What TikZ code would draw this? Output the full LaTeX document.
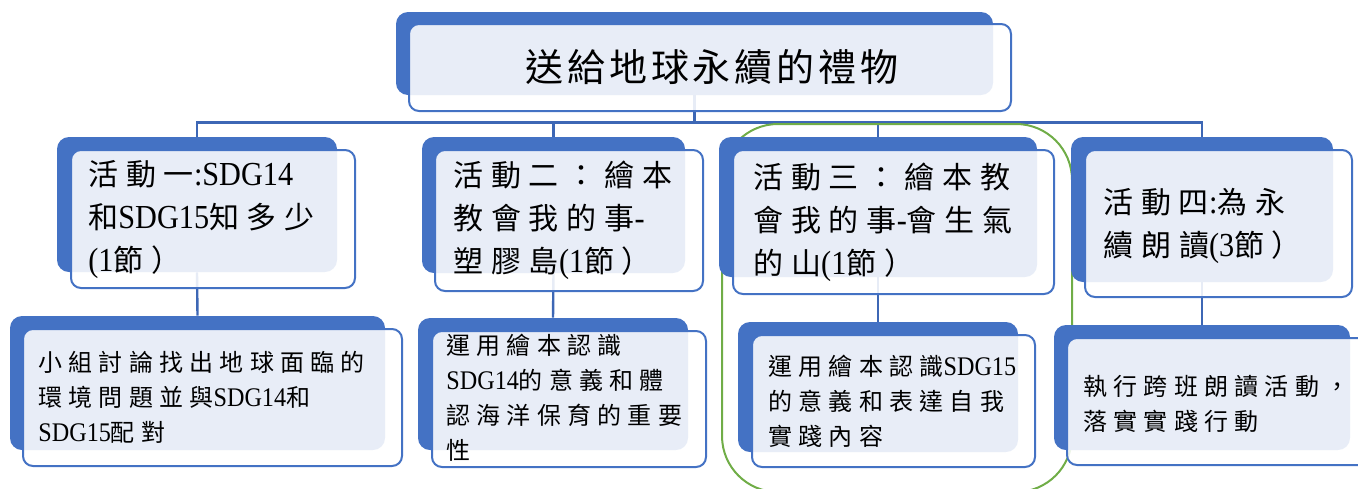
\documentclass[tikz,border=0pt]{standalone}
\usepackage{fontspec}
\setmainfont{Noto Sans CJK TC}[LetterSpace=26]
\newfontfamily\titlefont{Noto Sans CJK TC}[LetterSpace=10]
\newfontfamily\latinfont{Liberation Serif}[Scale=1.12, FakeStretch=0.9]
\newcommand\latn[1]{{\latinfont #1}}
\usetikzlibrary{fit}
\pgfdeclarelayer{background}
\pgfsetlayers{background,main}
\definecolor{accent}{HTML}{4472C4}
\definecolor{linkc}{HTML}{3D67B5}
\definecolor{grpc}{HTML}{70AD47}
\tikzset{
  back/.style={fill=accent, draw=none, rounded corners=6pt, inner sep=0pt},
  front/.style={fill=white, fill opacity=0.88, draw=accent, draw opacity=1, line width=1pt, rounded corners=5pt, inner sep=0pt},
  conn/.style={draw=linkc, line width=1.2pt},
  grp/.style={draw=grpc, line width=1pt, rounded corners=28pt, inner sep=0pt},
  lvlone/.style={anchor=west, align=left, inner sep=0pt, font=\fontsize{15}{21.5}\selectfont},
  lvltwo/.style={anchor=west, align=left, inner sep=0pt, font=\fontsize{12}{17.5}\selectfont},
}
\begin{document}
\begin{tikzpicture}[x=0.5pt, y=-0.5pt]
\useasboundingbox (0,0) rectangle (1358,488);
% group outline
\node[grp, fit={(722,124) (1072,492)}] (grp) {};
% top
\node[back, fit={(396,12) (993,95)}] (b0) {};
\node[front, fit={(409,24) (1011,111)}] (f0) {};
\node[inner sep=0pt, font=\fontsize{19}{22}\selectfont] (t0) at (712,67) {\titlefont 送給地球永續的禮物};
% level one
\node[back, fit={(57,137) (337,272)}] (b1) {};
\node[front, fit={(71,150) (355,288)}] (f1) {};
\node[lvlone] (t1) at (88,220) {活動一\latn{:SDG14}\\和\latn{SDG15}知多少\\\latn{(1}節）};
\node[back, fit={(422,137) (685,273)}] (b2) {};
\node[front, fit={(435,150) (703,291)}] (f2) {};
\node[lvlone] (t2) at (453,220) {活動二：繪本\\教會我的事\latn{-}\\塑膠島\latn{(1}節）};
\node[back, fit={(719,137) (1037,277)}] (b3) {};
\node[front, fit={(733,150) (1054,294)}] (f3) {};
\node[lvlone] (t3) at (753,222) {活動三：繪本教\\會我的事\latn{-}會生氣\\的山\latn{(1}節）};
\node[back, fit={(1071,137) (1333,282)}] (b4) {};
\node[front, fit={(1085,150) (1352,297)}] (f4) {};
\node[lvlone] (t4) at (1103,226) {活動四\latn{:}為永\\續朗讀\latn{(3}節）};
% level two
\node[back, fit={(10,316) (385,450)}] (d1) {};
\node[front, fit={(23,329) (402,466)}] (g1) {};
\node[lvltwo] (s1) at (38,397) {小組討論找出地球面臨的\\環境問題並與\latn{SDG14}和\\\latn{SDG15}配對};
\node[back, fit={(418,318) (688,450)}] (d2) {};
\node[front, fit={(432,331) (706,467)}] (g2) {};
\node[lvltwo] (s2) at (446,398) {運用繪本認識\\\latn{SDG14}的意義和體\\認海洋保育的重要\\性};
\node[back, fit={(738,322) (1018,452)}] (d3) {};
\node[front, fit={(752,335) (1035,467)}] (g3) {};
\node[lvltwo] (s3) at (768,401) {運用繪本認識\latn{SDG15}\\的意義和表達自我\\實踐內容};
\node[back, fit={(1054,325) (1350,450)}] (d4) {};
\node[front, fit={(1067,338) (1372,465)}] (g4) {};
\node[lvltwo] (s4) at (1083,404) {執行跨班朗讀活動，\\落實實踐行動};
% connectors
\begin{pgfonlayer}{background}
\draw[conn] (b0.south) -- ++(0,27) -| (b1.north);
\draw[conn] (b0.south) -- ++(0,27) -| (b2.north);
\draw[conn] (b0.south) -- ++(0,27) -| (b3.north);
\draw[conn] (b0.south) -- ++(0,27) -| (b4.north);
\draw[conn] (b1.south) -- (d1.north);
\draw[conn] (b2.south) -- (d2.north);
\draw[conn] (b3.south) -- (d3.north);
\draw[conn] (b4.south) -- (d4.north);
\end{pgfonlayer}
\end{tikzpicture}
\end{document}
